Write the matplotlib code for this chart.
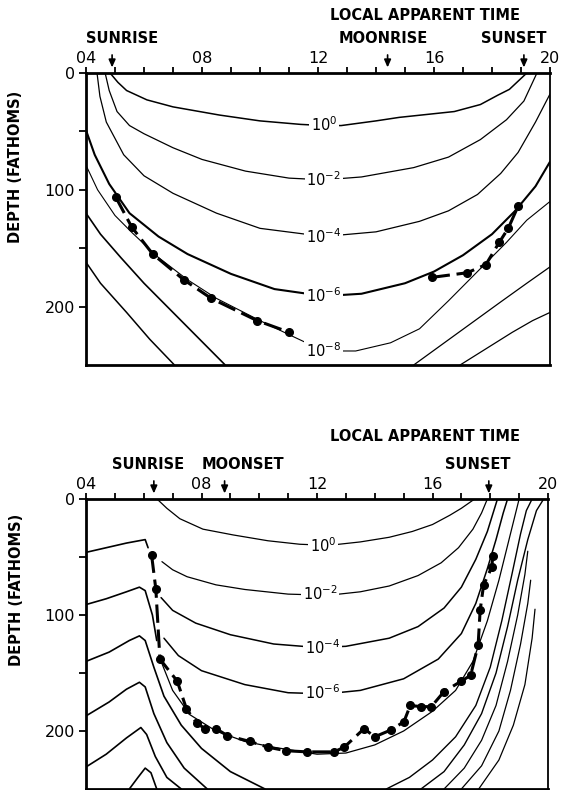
import matplotlib
matplotlib.use('Agg')
import matplotlib.pyplot as plt
import numpy as np

plt.rcParams['font.family'] = ['DejaVu Sans']
plt.rcParams['mathtext.default'] = 'regular'

# ---------------- axes / labels ----------------
hour_ticks = list(range(4, 21))
hour_labels = ['04', '', '', '', '08', '', '', '', '12', '', '', '', '16', '', '', '', '20']
depth_ticks = [0, 50, 100, 150, 200]
depth_labels = ['0', '', '100', '', '200']

# ---------------- top panel ----------------
top_events = ['SUNRISE', 'MOONRISE', 'SUNSET']
top_event_hours = [4.9, 14.4, 19.1]

top_am_hours = [5.02, 5.58, 6.30, 7.37, 8.32, 9.90, 11.01]
top_am_depths = [106, 132, 155, 177, 193, 212, 222]
top_pm_hours = [15.92, 17.15, 17.79, 18.25, 18.56, 18.90]
top_pm_depths = [175, 171, 164, 145, 133, 114]

top_c0 = [(4.83, 0), (5.1, 8), (5.4, 15), (6.1, 23), (7.0, 29), (8.6, 36), (10.0, 41), (11.4, 44),
          (12.2, 45), (12.8, 45), (14.0, 41), (14.8, 38), (16.7, 33), (17.6, 27), (18.2, 19), (18.6, 14), (19.2, 0)]
top_c2 = [(4.66, 0), (4.8, 15), (5.07, 33), (5.5, 45), (6.0, 52), (7.0, 64), (8.0, 74), (9.5, 84), (11.0, 90),
          (12.2, 91.5), (13.5, 89), (15.3, 81), (16.5, 72), (17.6, 57), (18.5, 40), (19.1, 24), (19.55, 0)]
top_c4 = [(4.38, 0), (4.48, 20), (4.7, 42), (5.3, 70), (6.0, 88), (7.0, 103), (8.5, 120), (10.0, 133), (12.2, 140),
          (14.0, 136), (15.5, 127), (16.5, 118), (17.5, 104), (18.3, 86), (18.9, 68), (19.5, 42), (20.0, 18)]
top_c6 = [(4.0, 49), (4.3, 70), (4.8, 95), (5.5, 120), (6.5, 140), (7.5, 155), (9.0, 172), (10.5, 185), (12.2, 191),
          (13.5, 189), (15.0, 180), (16.0, 170), (17.0, 156), (18.0, 138), (18.8, 118), (19.5, 97), (20.0, 76)]
top_c8 = [(4.0, 79), (4.4, 100), (5.0, 122), (5.6, 137), (6.5, 158), (7.5, 177), (8.5, 193), (10.0, 212), (11.0, 224),
          (12.2, 238), (13.3, 238), (14.5, 231), (15.5, 219), (16.5, 195), (17.5, 170), (18.5, 145), (19.2, 126), (20.0, 110)]
top_c10 = [(4.0, 120), (4.5, 138), (5.2, 158), (6.0, 180), (7.0, 205), (8.0, 230), (8.8, 250)]
top_c12 = [(4.0, 162), (4.5, 180), (5.4, 205), (6.2, 228), (7.05, 250)]
top_c10r = [(15.3, 250), (16.3, 232), (17.3, 214), (18.3, 196), (19.2, 180), (20.0, 166)]
top_c12r = [(16.9, 250), (17.8, 236), (18.7, 222), (19.4, 212), (20.0, 205)]

top_curves = [top_c0, top_c2, top_c4, top_c6, top_c8, top_c10, top_c12, top_c10r, top_c12r]
top_widths = [1.1, 0.9, 0.9, 1.5, 0.8, 1.2, 1.1, 0.9, 0.9]
top_labels = ['$10^{0}$', '$10^{-2}$', '$10^{-4}$', '$10^{-6}$', '$10^{-8}$']
top_label_hours = [12.2, 12.2, 12.2, 12.2, 12.2]
top_label_depths = [44, 91, 140, 191, 238]

# ---------------- bottom panel ----------------
bot_events = ['SUNRISE', 'MOONSET', 'SUNSET']
bot_event_hours = [6.35, 8.8, 17.95]

bot_hours = [6.27, 6.42, 6.56, 7.16, 7.48, 7.83, 8.12, 8.50, 8.90, 9.67, 10.31, 10.92, 11.66, 12.59, 12.94,
             13.63, 14.00, 14.57, 15.01, 15.23, 15.61, 15.96, 16.40, 17.00, 17.32, 17.58, 17.65, 17.77, 18.05, 18.09]
bot_depths = [48, 78, 138, 157, 181, 193, 198, 198, 204, 209, 214, 217, 218, 218, 214,
              198, 205, 199, 192, 178, 179, 179, 166, 157, 152, 126, 96, 74, 59, 49]

bot_c0 = [(6.46, 0), (6.8, 8), (7.25, 17), (8.05, 26), (9.1, 31), (10.3, 36), (11.4, 39), (12.4, 40), (13.5, 37),
          (14.5, 33), (15.3, 28), (16.0, 22), (16.6, 14), (17.0, 8), (17.46, 0)]
bot_c2 = [(6.63, 54), (7.0, 61), (7.5, 67), (8.5, 74), (9.5, 78), (11.0, 82), (12.4, 83), (13.5, 80), (14.5, 75),
          (15.5, 66), (16.3, 55), (16.9, 42), (17.4, 26), (17.7, 12), (17.9, 0)]
bot_c4 = [(6.6, 85), (7.0, 96), (7.8, 107), (9.0, 117), (10.5, 125), (12.0, 128), (13.0, 127), (14.5, 120),
          (15.5, 110), (16.4, 94), (17.0, 76), (17.5, 52), (17.9, 28), (18.1, 12), (18.25, 0)]
bot_c6 = [(6.7, 120), (7.2, 135), (8.0, 148), (9.5, 160), (11.0, 167), (12.3, 168), (13.5, 165), (15.0, 155),
          (16.2, 138), (17.0, 116), (17.5, 90), (17.9, 60), (18.2, 35), (18.45, 12), (18.6, 0)]
bot_c8 = [(6.6, 140), (7.0, 165), (7.6, 186), (8.5, 200), (9.5, 209), (10.5, 214), (12.0, 220), (13.0, 219), (14.0, 212),
          (15.0, 200), (16.0, 183), (16.8, 165), (17.4, 140), (17.9, 105), (18.3, 70), (18.6, 40), (18.85, 15), (19.0, 0)]
bot_c10 = [(14.4, 250), (15.2, 240), (16.0, 225), (16.8, 205), (17.5, 178), (18.0, 145), (18.4, 105), (18.75, 65),
           (19.05, 30), (19.25, 10), (19.45, 0)]
bot_c12 = [(15.6, 250), (16.4, 235), (17.1, 212), (17.7, 185), (18.2, 150), (18.6, 110), (18.95, 70), (19.3, 35),
           (19.6, 10), (19.85, 0)]
bot_r1 = [(16.4, 250), (17.1, 232), (17.7, 208), (18.2, 178), (18.6, 140), (18.95, 100), (19.2, 65), (19.3, 45)]
bot_r2 = [(17.0, 250), (17.7, 230), (18.3, 200), (18.7, 165), (19.05, 125), (19.3, 90), (19.4, 70)]
bot_r3 = [(17.6, 250), (18.3, 225), (18.8, 195), (19.2, 160), (19.45, 120), (19.55, 95)]
bot_p1 = [(4.0, 46), (4.7, 42), (5.4, 38), (6.05, 35), (6.15, 42)]
bot_p2 = [(4.0, 91), (4.7, 86), (5.4, 80), (5.85, 76), (6.05, 79), (6.3, 100), (6.45, 122)]
bot_p3 = [(4.0, 140), (4.8, 132), (5.5, 122), (5.85, 118), (6.05, 122), (6.35, 145), (6.7, 170), (7.3, 195),
          (8.0, 215), (9.0, 235), (10.2, 250)]
bot_p4 = [(4.0, 187), (4.8, 175), (5.4, 164), (5.85, 158), (6.05, 162), (6.35, 185), (6.8, 210), (7.4, 232), (8.2, 250)]
bot_p5 = [(4.0, 231), (4.7, 220), (5.4, 206), (5.9, 197), (6.1, 203), (6.4, 222), (6.8, 240), (7.3, 250)]
bot_p6 = [(5.5, 250), (5.8, 240), (6.05, 232), (6.25, 236), (6.45, 250)]

bot_curves = [bot_c0, bot_c2, bot_c4, bot_c6, bot_c8, bot_c10, bot_c12, bot_r1, bot_r2, bot_r3,
              bot_p1, bot_p2, bot_p3, bot_p4, bot_p5, bot_p6]
bot_widths = [0.9, 0.9, 1.1, 1.1, 0.9, 1.0, 1.0, 0.9, 0.9, 0.9, 1.2, 1.2, 1.2, 1.2, 1.2, 1.2]
bot_labels = ['$10^{0}$', '$10^{-2}$', '$10^{-4}$', '$10^{-6}$']
bot_label_hours = [12.2, 12.1, 12.2, 12.2]
bot_label_depths = [40, 82, 128, 167]

# ---------------- figure ----------------
fig = plt.figure(figsize=(5.62, 7.90), dpi=100)
ax_top = fig.add_axes([86 / 562, 1 - 365 / 790, 464 / 562, 292 / 790])
ax_bot = fig.add_axes([86 / 562, 1 - 789 / 790, 462 / 562, 290 / 790])

FS = 10.5


def style_axes(ax):
    ax.set_xlim(4, 20)
    ax.set_ylim(250, 0)
    ax.xaxis.tick_top()
    ax.set_xticks(hour_ticks)
    ax.set_xticklabels(hour_labels, fontsize=FS + 1)
    ax.set_yticks(depth_ticks)
    ax.set_yticklabels(depth_labels, fontsize=FS + 1)
    ax.tick_params(axis='x', direction='out', length=4, width=1.3, pad=1, top=True, bottom=False)
    ax.tick_params(axis='y', direction='out', length=5, width=1.3, pad=3)
    for s in ['top', 'left', 'bottom']:
        ax.spines[s].set_linewidth(2.0)
    ax.spines['right'].set_linewidth(1.3)
    ax.set_ylabel('DEPTH (FATHOMS)', fontsize=FS, fontweight='bold')


def draw_curves(ax, curves, widths):
    for c, w in zip(curves, widths):
        hh = [p[0] for p in c]
        dd = [p[1] for p in c]
        ax.plot(hh, dd, color='black', lw=w, solid_capstyle='round', zorder=2)


def draw_labels(ax, labels, hours, depths):
    for t, h, d in zip(labels, hours, depths):
        ax.text(h, d, t, fontsize=FS, ha='center', va='center', zorder=3,
                bbox=dict(boxstyle='square,pad=0.12', fc='white', ec='none'))


def draw_events(ax, names, hours, text_dx):
    for n, h, dx in zip(names, hours, text_dx):
        ax.annotate('', xy=(h, 0), xycoords='data', xytext=(0, 13), textcoords='offset points',
                    arrowprops=dict(arrowstyle='-|>,head_length=0.45,head_width=0.2', color='black', lw=1.2,
                                    shrinkA=0, shrinkB=4))
        ax.annotate(n, xy=(h, 0), xycoords='data', xytext=(dx, 25), textcoords='offset points',
                    ha='center', va='center', fontsize=FS, fontweight='bold')


for ax in (ax_top, ax_bot):
    style_axes(ax)

draw_curves(ax_top, top_curves, top_widths)
draw_labels(ax_top, top_labels, top_label_hours, top_label_depths)
ax_top.plot(top_am_hours, top_am_depths, color='black', lw=2.2, ls=(0, (6, 2.2)), marker='o', ms=5.5, zorder=4)
ax_top.plot(top_pm_hours, top_pm_depths, color='black', lw=2.2, ls=(0, (6, 2.2)), marker='o', ms=5.5, zorder=4)
draw_events(ax_top, top_events, top_event_hours, [7, -3, -7])

draw_curves(ax_bot, bot_curves, bot_widths)
draw_labels(ax_bot, bot_labels, bot_label_hours, bot_label_depths)
ax_bot.plot(bot_hours, bot_depths, color='black', lw=2.2, ls=(0, (6, 2.2)), marker='o', ms=5.5, zorder=4)
draw_events(ax_bot, bot_events, bot_event_hours, [-4, 13, -8])

ax_top.yaxis.set_label_coords(-0.135, 0.68)
ax_bot.yaxis.set_label_coords(-0.135, 0.686)

fig.text(425 / 562, 1 - 15 / 790, 'LOCAL APPARENT TIME', ha='center', va='center', fontsize=FS, fontweight='bold')
fig.text(425 / 562, 1 - 437 / 790, 'LOCAL APPARENT TIME', ha='center', va='center', fontsize=FS, fontweight='bold')

fig.savefig('out.png', dpi=100, facecolor='white')
